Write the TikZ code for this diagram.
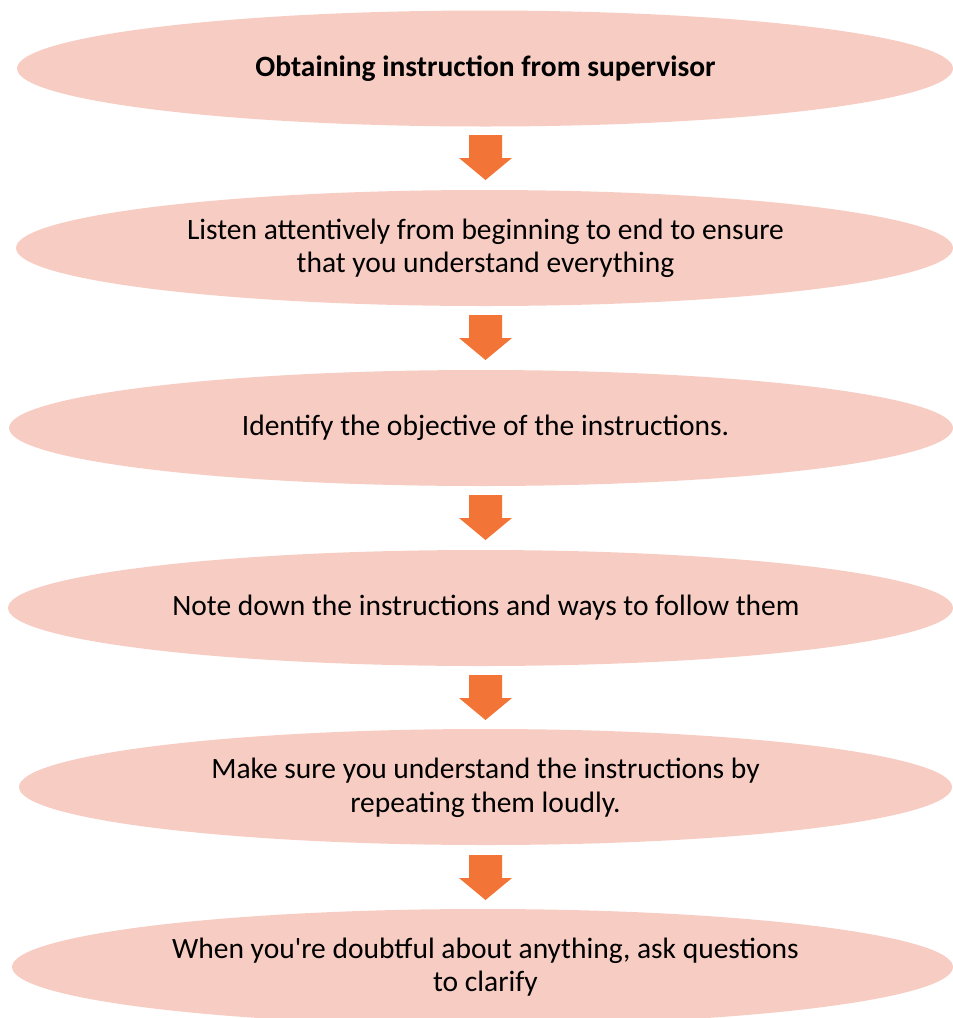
\documentclass[tikz,border=0pt]{standalone}
\usepackage{fontspec}
\setmainfont{Carlito}[Ligatures=TeXOff]
\usetikzlibrary{shapes.geometric}
\definecolor{ellfill}{HTML}{F7CDC3}
\definecolor{arrfill}{HTML}{F27537}
\tikzset{
  stepell/.style={ellipse, fill=ellfill, draw=none, inner sep=0pt,
    minimum height=116pt},
  steptext/.style={align=center, inner sep=0pt, font=\fontsize{29.5}{33.5}\selectfont},
  blockarrow/.pic={\fill[arrfill] (-16.5,-22.5) -- (16.5,-22.5) -- (16.5,0.5) -- (26.5,0.5)
     -- (0,22.5) -- (-26.5,0.5) -- (-16.5,0.5) -- cycle;}
}
\begin{document}
\begin{tikzpicture}[x=1pt,y=-1pt]
\useasboundingbox (0,0) rectangle (953,1018);
\node[stepell, minimum width=936pt] (e1) at (485,68.5) {};
\node[stepell, minimum width=937pt] (e2) at (484.5,248) {};
\node[stepell, minimum width=944pt] (e3) at (481,428) {};
\node[stepell, minimum width=945pt] (e4) at (480.5,608) {};
\node[stepell, minimum width=933pt] (e5) at (485.5,787) {};
\node[stepell, minimum width=941pt] (e6) at (482.5,967) {};
\node[steptext] (t1) at (485.5,68.5) {\textbf{Obtaining instruction from supervisor}};
\node[steptext] (t2) at (485.5,248.5) {Listen attentively from beginning to end to ensure\\that you understand everything};
\node[steptext] (t3) at (485.5,428) {Identify the objective of the instructions.};
\node[steptext] (t4) at (486,608) {Note down the instructions and ways to follow them};
\node[steptext] (t5) at (485.5,788) {Make sure you understand the instructions by\\repeating them loudly.};
\node[steptext] (t6) at (485.5,967) {When you're doubtful about anything, ask questions\\to clarify};
\pic (a1) at (485.5,157.5) {blockarrow};
\pic (a2) at (485.5,337.5) {blockarrow};
\pic (a3) at (485.5,517.5) {blockarrow};
\pic (a4) at (485.5,697.5) {blockarrow};
\pic (a5) at (485.5,877.5) {blockarrow};
\end{tikzpicture}
\end{document}
